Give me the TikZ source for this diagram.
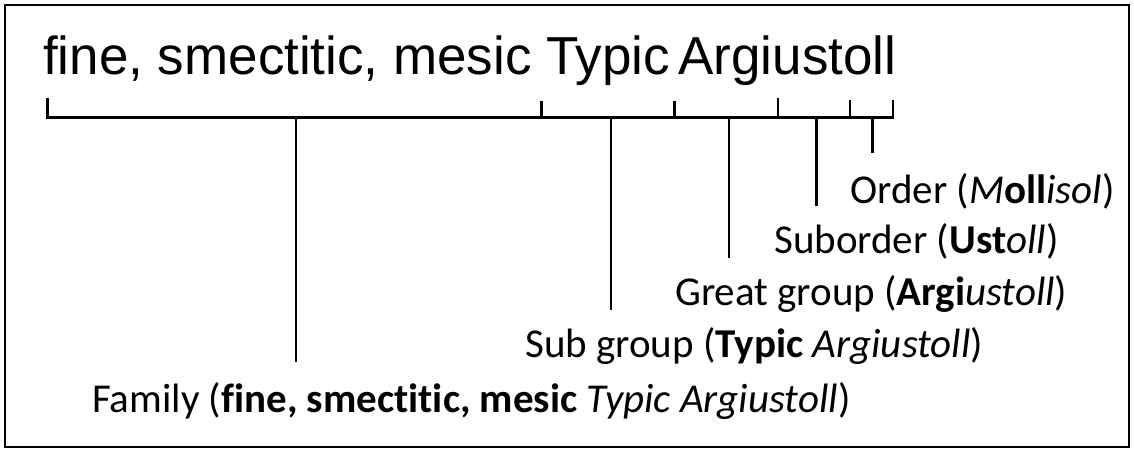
\documentclass[tikz,border=0pt]{standalone}
\usepackage{graphicx}
\usepackage{fontspec}
\setmainfont{Carlito}[Ligatures={NoCommon}]
\newfontfamily\arialf{Liberation Sans}
\begin{document}
\begin{tikzpicture}[x=1pt,y=-1pt,
  frame/.style={line width=2pt},
  bracket/.style={line width=2.7pt, line cap=rect},
  leader/.style={line width=2.2pt},
  lbl/.style={anchor=base west, inner sep=0pt, font=\fontsize{41}{48}\selectfont},
  title/.style={anchor=base west, inner sep=0pt, font=\fontsize{53.5}{60}\arialf}]
\useasboundingbox (0,0) rectangle (1134,450);
\draw[frame] (5,5) rectangle (1129,447);
% title
\node[title] (ttl) at (43,74) {\scalebox{0.99}[1]{fine, smectitic, mesic Typic\hspace{-0.12em} Argiustoll}};
% bracket coordinates
\coordinate (b0) at (47.5,117.5);
\coordinate (b5) at (893,117.5);
\coordinate (u0) at (47.5,99);
\coordinate (u1) at (541.5,101); \coordinate (d1) at (541.5,117);
\coordinate (u2) at (674.5,101); \coordinate (d2) at (674.5,117);
\coordinate (u3) at (778,98);    \coordinate (d3) at (778,117);
\coordinate (u4) at (850,100);   \coordinate (d4) at (850,117);
\coordinate (u5) at (893,101);
\draw[bracket] (u0) -- (b0) -- (b5) -- (u5);
\foreach \i in {1,2,3,4} \draw[leader] (d\i) -- (u\i);
% leaders
\coordinate (fa) at (296,117);   \coordinate (fb) at (296,362);
\coordinate (sa) at (611,117);   \coordinate (sb) at (611,310);
\coordinate (ga) at (729,117);   \coordinate (gb) at (729,258);
\coordinate (oa) at (816.5,117); \coordinate (ob) at (816.5,206);
\coordinate (ra) at (872.5,117); \coordinate (rb) at (872.5,153);
\draw[leader] (fa) -- (fb);
\draw[leader] (sa) -- (sb);
\draw[leader] (ga) -- (gb);
\draw[leader] (oa) -- (ob);
\draw[leader] (ra) -- (rb);
% labels
\node[lbl] (order) at (850,203) {Order (\textit{M}\textbf{oll}\textit{isol})};
\node[lbl] (suborder) at (774,253) {Suborder (\textbf{Ust}\textit{oll})};
\node[lbl] (great) at (675,305) {Great group (\textbf{Argi}\textit{ustoll})};
\node[lbl] (sub) at (525,357) {Sub group (\textbf{Typic} \textit{Argiustoll})};
\node[lbl] (family) at (92,412) {Family (\textbf{fine, smectitic, mesic} \textit{Typic Argiustoll})};
\end{tikzpicture}
\end{document}
